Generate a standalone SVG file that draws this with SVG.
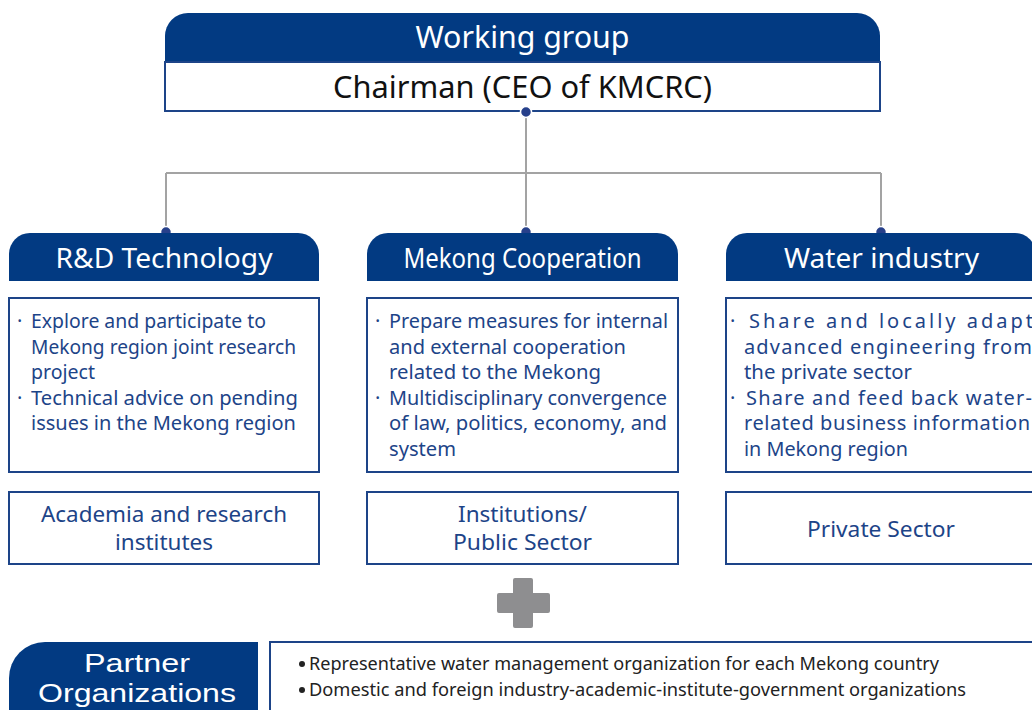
<svg xmlns="http://www.w3.org/2000/svg" width="1032" height="710" viewBox="0 0 1032 710">
<defs>
<style>
.hdr{fill:#023a82}
.box{fill:#fff;stroke:#1d4488;stroke-width:2}
.wt{fill:#fff;font-family:"Noto Sans","Open Sans",sans-serif;text-anchor:middle}
.pw{fill:#fff;font-family:"Liberation Sans",Arial,sans-serif;text-anchor:middle;font-size:26px}
.bt{fill:#1d4488;font-family:"Noto Sans","Open Sans",sans-serif;font-size:20px}
.ct{fill:#1d4488;font-family:"Noto Sans","Open Sans",sans-serif;font-size:22px;text-anchor:middle}
.pt{fill:#222;font-family:"Noto Sans","Open Sans",sans-serif;font-size:18.5px}
.ln{fill:none;stroke:#a3a3a3;stroke-width:2}
.dot{fill:#27408b;stroke:#fff;stroke-width:1.5}
</style>
</defs>
<rect width="1032" height="710" fill="#fff"/>

<g id="connectors">
<path class="ln" d="M526,112 V173 M166,173 H881 M166,173 V232 M526,173 V232 M881,173 V232"/>
<circle class="dot" cx="166" cy="232" r="5.5"/>
<circle class="dot" cx="526" cy="232" r="5.5"/>
<circle class="dot" cx="881" cy="232" r="5.5"/>
</g>

<g id="working-group">
<path class="hdr" d="M165,62 V36 A23,23 0 0 1 188,13 H857 A23,23 0 0 1 880,36 V62 Z"/>
<text class="wt" x="522.5" y="48" font-size="30" textLength="214" lengthAdjust="spacingAndGlyphs">Working group</text>
<rect class="box" x="165" y="62" width="715" height="49"/>
<text x="522.5" y="98" font-family="Noto Sans, Open Sans, sans-serif" font-size="30" text-anchor="middle" fill="#111" textLength="379" lengthAdjust="spacingAndGlyphs">Chairman (CEO of KMCRC)</text>
<circle class="dot" cx="526" cy="112" r="5.5"/>
</g>

<g id="rd-technology">
<path class="hdr" d="M9,281 V254 A21,21 0 0 1 30,233 H298 A21,21 0 0 1 319,254 V281 Z"/>
<text class="wt" x="164" y="268" font-size="27" textLength="217" lengthAdjust="spacingAndGlyphs">R&amp;D Technology</text>
<rect class="box" x="9" y="298" width="310" height="174"/>
<text class="bt" x="17" y="328">·</text>
<text class="bt" x="31" y="328" textLength="235" lengthAdjust="spacingAndGlyphs">Explore and participate to</text>
<text class="bt" x="31" y="354" textLength="265" lengthAdjust="spacingAndGlyphs">Mekong region joint research</text>
<text class="bt" x="31" y="379" textLength="64" lengthAdjust="spacingAndGlyphs">project</text>
<text class="bt" x="17" y="405">·</text>
<text class="bt" x="31" y="405" textLength="267" lengthAdjust="spacingAndGlyphs">Technical advice on pending</text>
<text class="bt" x="31" y="430" textLength="265" lengthAdjust="spacingAndGlyphs">issues in the Mekong region</text>
<rect class="box" x="9" y="492" width="310" height="72"/>
<text class="ct" x="164" y="522" textLength="246" lengthAdjust="spacingAndGlyphs">Academia and research</text>
<text class="ct" x="164" y="550" textLength="98" lengthAdjust="spacingAndGlyphs">institutes</text>
</g>

<g id="mekong-cooperation">
<path class="hdr" d="M367,281 V254 A21,21 0 0 1 388,233 H657 A21,21 0 0 1 678,254 V281 Z"/>
<text class="wt" x="522.5" y="268" font-size="27" textLength="238" lengthAdjust="spacingAndGlyphs">Mekong Cooperation</text>
<rect class="box" x="367" y="298" width="311" height="174"/>
<text class="bt" x="375" y="328">·</text>
<text class="bt" x="389" y="328" textLength="279" lengthAdjust="spacingAndGlyphs">Prepare measures for internal</text>
<text class="bt" x="389" y="354" textLength="237" lengthAdjust="spacingAndGlyphs">and external cooperation</text>
<text class="bt" x="389" y="379" textLength="212" lengthAdjust="spacingAndGlyphs">related to the Mekong</text>
<text class="bt" x="375" y="405">·</text>
<text class="bt" x="389" y="405" textLength="278" lengthAdjust="spacingAndGlyphs">Multidisciplinary convergence</text>
<text class="bt" x="389" y="430" textLength="278" lengthAdjust="spacingAndGlyphs">of law, politics, economy, and</text>
<text class="bt" x="389" y="456" textLength="67" lengthAdjust="spacingAndGlyphs">system</text>
<rect class="box" x="367" y="492" width="311" height="72"/>
<text class="ct" x="522.5" y="522" textLength="129" lengthAdjust="spacingAndGlyphs">Institutions/</text>
<text class="ct" x="522.5" y="550" textLength="139" lengthAdjust="spacingAndGlyphs">Public Sector</text>
</g>

<g id="water-industry">
<path class="hdr" d="M726,281 V254 A21,21 0 0 1 747,233 H1015 A21,21 0 0 1 1036,254 V281 Z"/>
<text class="wt" x="881.5" y="268" font-size="27" textLength="195" lengthAdjust="spacingAndGlyphs">Water industry</text>
<rect class="box" x="726" y="298" width="312" height="174"/>
<text class="bt" x="730" y="328">·</text>
<text class="bt" x="749" y="328" textLength="284" lengthAdjust="spacing">Share and locally adapt</text>
<text class="bt" x="744" y="354" textLength="288" lengthAdjust="spacing">advanced engineering from</text>
<text class="bt" x="744" y="379" textLength="168" lengthAdjust="spacingAndGlyphs">the private sector</text>
<text class="bt" x="730" y="405">·</text>
<text class="bt" x="746" y="405" textLength="286" lengthAdjust="spacing">Share and feed back water-</text>
<text class="bt" x="744" y="430" textLength="286" lengthAdjust="spacing">related business information</text>
<text class="bt" x="744" y="456" textLength="164" lengthAdjust="spacingAndGlyphs">in Mekong region</text>
<rect class="box" x="726" y="492" width="312" height="72"/>
<text class="ct" x="881" y="537" textLength="148" lengthAdjust="spacingAndGlyphs">Private Sector</text>
</g>

<g id="plus">
<path fill="#8e8e90" d="M515,578 H531 Q533,578 533,580 V593 H548 Q550,593 550,595 V611 Q550,613 548,613 H533 V626 Q533,628 531,628 H515 Q513,628 513,626 V613 H499 Q497,613 497,611 V595 Q497,593 499,593 H513 V580 Q513,578 515,578 Z"/>
</g>

<g id="partner-organizations">
<path class="hdr" d="M9,712 V678 A36,36 0 0 1 45,642 H258 V712 Z"/>
<text class="pw" x="137" y="672" textLength="106" lengthAdjust="spacingAndGlyphs">Partner</text>
<text class="pw" x="137" y="702" textLength="198" lengthAdjust="spacingAndGlyphs">Organizations</text>
<rect class="box" x="270" y="642" width="770" height="75"/>
<circle cx="302" cy="664" r="3" fill="#222"/>
<text class="pt" x="309" y="670" textLength="630" lengthAdjust="spacingAndGlyphs">Representative water management organization for each Mekong country</text>
<circle cx="302" cy="690" r="3" fill="#222"/>
<text class="pt" x="309" y="696" textLength="657" lengthAdjust="spacingAndGlyphs">Domestic and foreign industry-academic-institute-government organizations</text>
</g>
</svg>
